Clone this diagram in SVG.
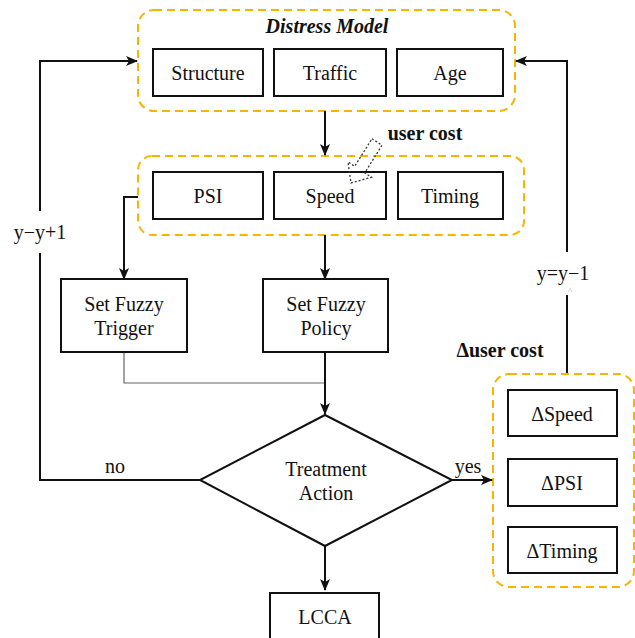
<svg xmlns="http://www.w3.org/2000/svg" width="635" height="638" viewBox="0 0 635 638">
<defs>
<marker id="ar" viewBox="0 0 12 12" refX="11" refY="6" markerWidth="12" markerHeight="12" markerUnits="userSpaceOnUse" orient="auto">
<path d="M0,1 L12,6 L0,11 L3,6 z" fill="#111"/>
</marker>
</defs>
<rect width="635" height="638" fill="#fff"/>
<g id="groups" fill="none" stroke="#F7B500" stroke-width="2" stroke-dasharray="8 5">
<rect x="138" y="10" width="377" height="101" rx="16"/>
<rect x="138" y="156" width="386" height="79" rx="14"/>
<rect x="493" y="374" width="141" height="213" rx="16"/>
</g>
<g id="connectors" fill="none" stroke="#111" stroke-width="2">
<path d="M325,111 V155" marker-end="url(#ar)"/>
<path d="M138,197 H124 V279" marker-end="url(#ar)"/>
<path d="M325,235 V279" marker-end="url(#ar)"/>
<path d="M124,352 V383 H325" stroke="#666" stroke-width="1.2"/>
<path d="M325,352 V414" marker-end="url(#ar)"/>
<path d="M452,480 H492" marker-end="url(#ar)"/>
<path d="M325,546 V590" marker-end="url(#ar)"/>
<path d="M200,480 H40 V253 M40,211 V61 H137" marker-end="url(#ar)"/>
<path d="M567,373 V295 M567,252 V61 H516" marker-end="url(#ar)"/>
</g>
<g id="labels" font-family="Times New Roman, Liberation Serif, serif" font-size="20" fill="#111" text-anchor="middle">
<text x="115" y="473">no</text>
<text x="468" y="473">yes</text>
<text x="40" y="239">y−y+1</text>
<text x="563" y="280">y=y−1</text>
<text x="570" y="294" font-size="9" fill="#999">^</text>
<text x="425" y="140" font-weight="bold">user cost</text>
<text x="500" y="357" font-weight="bold">Δuser cost</text>
</g>
<g id="nodes" font-family="Times New Roman, Liberation Serif, serif" font-size="20" text-anchor="middle" fill="#111">
<g id="distress-model"><text x="327" y="33" font-weight="bold" font-style="italic">Distress Model</text></g>
<g id="structure"><rect x="153" y="49" width="110" height="47" fill="#fff" stroke="#111" stroke-width="2"/><text x="208" y="80">Structure</text></g>
<g id="traffic"><rect x="274" y="49" width="112" height="47" fill="#fff" stroke="#111" stroke-width="2"/><text x="330" y="80">Traffic</text></g>
<g id="age"><rect x="397" y="49" width="106" height="47" fill="#fff" stroke="#111" stroke-width="2"/><text x="450" y="80">Age</text></g>
<g id="psi"><rect x="153" y="172" width="110" height="47" fill="#fff" stroke="#111" stroke-width="2"/><text x="208" y="203">PSI</text></g>
<g id="speed"><rect x="274" y="172" width="112" height="47" fill="#fff" stroke="#111" stroke-width="2"/><text x="330" y="203">Speed</text></g>
<g id="timing"><rect x="398" y="172" width="105" height="47" fill="#fff" stroke="#111" stroke-width="2"/><text x="450" y="203">Timing</text></g>
<g id="trigger"><rect x="61" y="279" width="126" height="73" fill="#fff" stroke="#111" stroke-width="2"/><text x="124" y="311">Set Fuzzy</text><text x="124" y="335">Trigger</text></g>
<g id="policy"><rect x="263" y="279" width="125" height="73" fill="#fff" stroke="#111" stroke-width="2"/><text x="326" y="311">Set Fuzzy</text><text x="326" y="335">Policy</text></g>
<g id="treatment"><polygon points="325,415 452,480 325,546 200,480" fill="#fff" stroke="#111" stroke-width="2"/><text x="326" y="476">Treatment</text><text x="326" y="500">Action</text></g>
<g id="lcca"><rect x="270" y="593" width="109" height="50" fill="#fff" stroke="#111" stroke-width="2"/><text x="325" y="624">LCCA</text></g>
<g id="dspeed"><rect x="508" y="390" width="109" height="46" fill="#fff" stroke="#111" stroke-width="2"/><text x="562" y="421">ΔSpeed</text></g>
<g id="dpsi"><rect x="508" y="459" width="109" height="47" fill="#fff" stroke="#111" stroke-width="2"/><text x="562" y="490">ΔPSI</text></g>
<g id="dtiming"><rect x="508" y="527" width="109" height="46" fill="#fff" stroke="#111" stroke-width="2"/><text x="562" y="558">ΔTiming</text></g>
</g>
<g id="user-cost-arrow">
<polygon points="372,138.7 382,145.3 364.7,172.9 371.5,177.2 351,183 348,162 354.7,166.3" fill="none" stroke="#333" stroke-width="1.3" stroke-dasharray="2 2"/>
</g>
</svg>
